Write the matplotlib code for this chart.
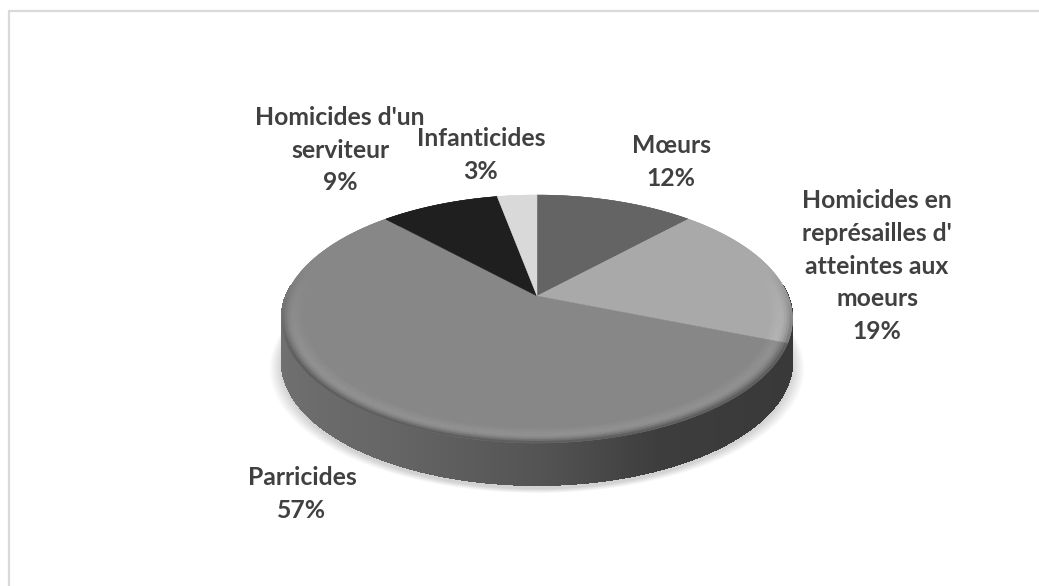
import numpy as np
import matplotlib
matplotlib.use("Agg")
import matplotlib.pyplot as plt
from matplotlib.collections import PolyCollection
from matplotlib.colors import to_rgb

# data, clockwise from the top
categories = ["Mœurs", "Homicides en\nreprésailles d'\natteintes aux\nmoeurs", "Parricides",
              "Homicides d'un\nserviteur", "Infanticides"]
percents = [12, 19, 57, 9, 3]
colors = ["#646464", "#a9a9a9", "#878787", "#1f1f1f", "#d9d9d9"]
label_x = [671, 877, 302, 340, 481]
label_y = [162, 266, 494, 150, 155]

# look of the side wall, by x position on the pie
side_u = [-1.0, -0.5, 0.0, 0.4, 1.0]
side_grey = [0.44, 0.40, 0.33, 0.24, 0.22]

# pie geometry in pixels
cx, cy = 537, 296
B, A, k = 251.0, 119.7, 0.1855
depth = 42


def project(theta, r=1.0):
    # theta clockwise from the top, perspective squeeze towards the back
    u = r * np.sin(theta)
    v = r * np.cos(theta)
    d = 1 + k * v
    return cx + B * u / d, cy - A * v / d


fig = plt.figure(figsize=(10.39, 5.86), dpi=100)
ax = fig.add_axes([0, 0, 1, 1])
ax.set_xlim(0, 1039)
ax.set_ylim(586, 0)
ax.axis("off")

# outer frame
ax.plot([9, 9, 1039], [586, 11, 11], color="#d9d9d9", lw=1.6)

# soft shadow under the pie
th = np.linspace(0, 2 * np.pi, 361)
for s in np.linspace(14, 0, 15):
    x, y = project(th)
    ax.fill(cx + (x - cx) * (1 + s / 300), y + depth + 4 + s * 0.3, color="k", alpha=0.012, lw=0, zorder=1)

# side wall, thin vertical quads along the front of the pie
th = np.radians(np.linspace(85, 275, 381))
side_quads, side_cols = [], []
for t0, t1 in zip(th[:-1], th[1:]):
    x0, y0 = project(t0)
    x1, y1 = project(t1)
    side_quads.append([(x0, y0), (x1, y1), (x1, y1 + depth), (x0, y0 + depth)])
    side_cols.append([np.interp(np.sin(t0), side_u, side_grey)] * 3)
ax.add_collection(PolyCollection(side_quads, facecolors=side_cols, edgecolors=side_cols, lw=0.8,
                                 antialiased=False, zorder=2))

# top face, one wedge per category, from the percents
edges = np.cumsum([0] + percents) / sum(percents) * 2 * np.pi
for i, c in enumerate(colors):
    t = np.linspace(edges[i], edges[i + 1], 200)
    x, y = project(t)
    ax.fill(np.r_[cx, x], np.r_[cy, y], color=c, lw=0.3, zorder=3)

# bevel round the front rim: faint light line first, then dark into the wall
rings = np.linspace(0.90, 1.0, 11)
ring_gain = np.array([0.0, 0.01, 0.03, 0.05, 0.07, 0.08, 0.05, -0.04, -0.16, -0.30, -0.42])
quads, cols = [], []
for w, c in enumerate(colors):
    base = np.array(to_rgb(c))
    angs = np.linspace(edges[w], edges[w + 1], max(percents[w] * 8, 8))
    for t0, t1 in zip(angs[:-1], angs[1:]):
        front = np.clip((0.25 - np.cos(t0)) / 0.7, 0, 1)
        for j in range(len(rings) - 1):
            xa, ya = project(t0, rings[j])
            xb, yb = project(t1, rings[j])
            xc, yc = project(t1, rings[j + 1])
            xd, yd = project(t0, rings[j + 1])
            quads.append([(xa, ya), (xb, yb), (xc, yc), (xd, yd)])
            cols.append(np.clip(base * (1 + ring_gain[j] * front), 0, 1))
ax.add_collection(PolyCollection(quads, facecolors=cols, edgecolors=cols, lw=0.3, zorder=4))

# labels
for name, p, lx, ly in zip(categories, percents, label_x, label_y):
    ax.text(lx, ly, f"{name}\n{p}%", ha="center", va="center", family="Lato", weight="bold",
            fontsize=17.8, color="#404040", linespacing=1.51, zorder=5)

fig.savefig("out.png", dpi=100)
